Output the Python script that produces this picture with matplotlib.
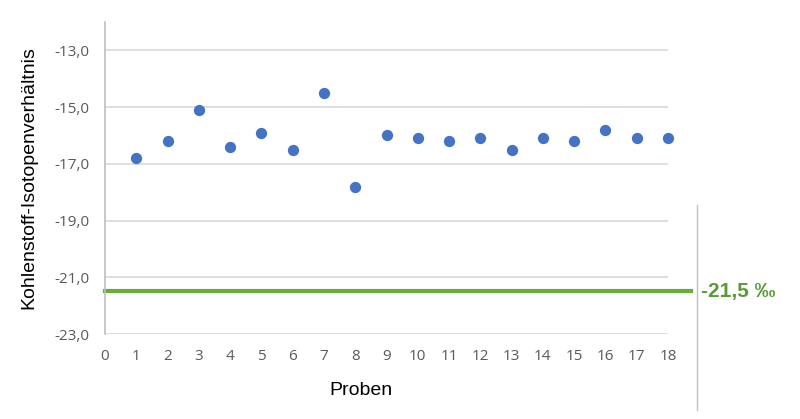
import matplotlib
matplotlib.use("Agg")
import matplotlib.pyplot as plt
from matplotlib.lines import Line2D

samples = list(range(1, 19))
values = [-16.8, -16.2, -15.1, -16.4, -15.9, -16.5, -14.5, -17.8, -16.0,
          -16.1, -16.2, -16.1, -16.5, -16.1, -16.2, -15.8, -16.1, -16.1]
reference = -21.5
reference_label = "-21,5 ‰"
x_ticks = list(range(0, 19))
y_ticks = [-23, -21, -19, -17, -15, -13]
y_ticklabels = ["-23,0", "-21,0", "-19,0", "-17,0", "-15,0", "-13,0"]

W, H = 800, 419
fig = plt.figure(figsize=(W / 100, H / 100), dpi=100)
left, right, bottom, top = 105, 668, 334, 22
ax = fig.add_axes([left / W, 1 - bottom / H, (right - left) / W, (bottom - top) / H])

ax.set_xlim(0, 18)
ax.set_ylim(-23, -12)
ax.set_yticks(y_ticks)
ax.set_yticklabels(y_ticklabels)
ax.set_xticks(x_ticks)

grid_c = "#D9D9D9"
for yv in y_ticks:
    ax.axhline(yv, color=grid_c, lw=1.2, zorder=1)

for s in ["top", "right", "bottom"]:
    ax.spines[s].set_visible(False)
ax.spines["left"].set_color("#BFBFBF")
ax.spines["left"].set_linewidth(1.2)

ax.tick_params(axis="both", length=0, labelsize=11, labelcolor="#595959")
ax.tick_params(axis="y", pad=11)
ax.tick_params(axis="x", pad=11)
for lab in ax.get_xticklabels() + ax.get_yticklabels():
    lab.set_fontfamily("Open Sans")

ax.axhline(reference, xmin=0, xmax=(690.7 - left) / (right - left), color="#6AAB3F",
           lw=3, clip_on=False, zorder=2)

ax.scatter(samples, values, s=66, color="#4472C4", zorder=3, clip_on=False, linewidths=0)

fig.text(29 / W, 1 - 178 / H, "Kohlenstoff-Isotopenverhältnis", rotation=90,
         ha="center", va="center", fontsize=14, family="Liberation Sans", color="black")
fig.text(361 / W, 1 - 390 / H, "Proben", ha="center", va="center", fontsize=14,
         family="Liberation Sans", color="black")

fig.text(701 / W, 1 - 291 / H, reference_label, ha="left", va="center", fontsize=15,
         fontweight="bold", family="Liberation Sans", color="#5A9A36")

fig.add_artist(Line2D([697.3 / W, 697.3 / W], [1 - 205 / H, 1 - 410 / H],
                      transform=fig.transFigure, color="#BFBFBF", lw=1))

fig.savefig("out.png", dpi=100, facecolor="white")
